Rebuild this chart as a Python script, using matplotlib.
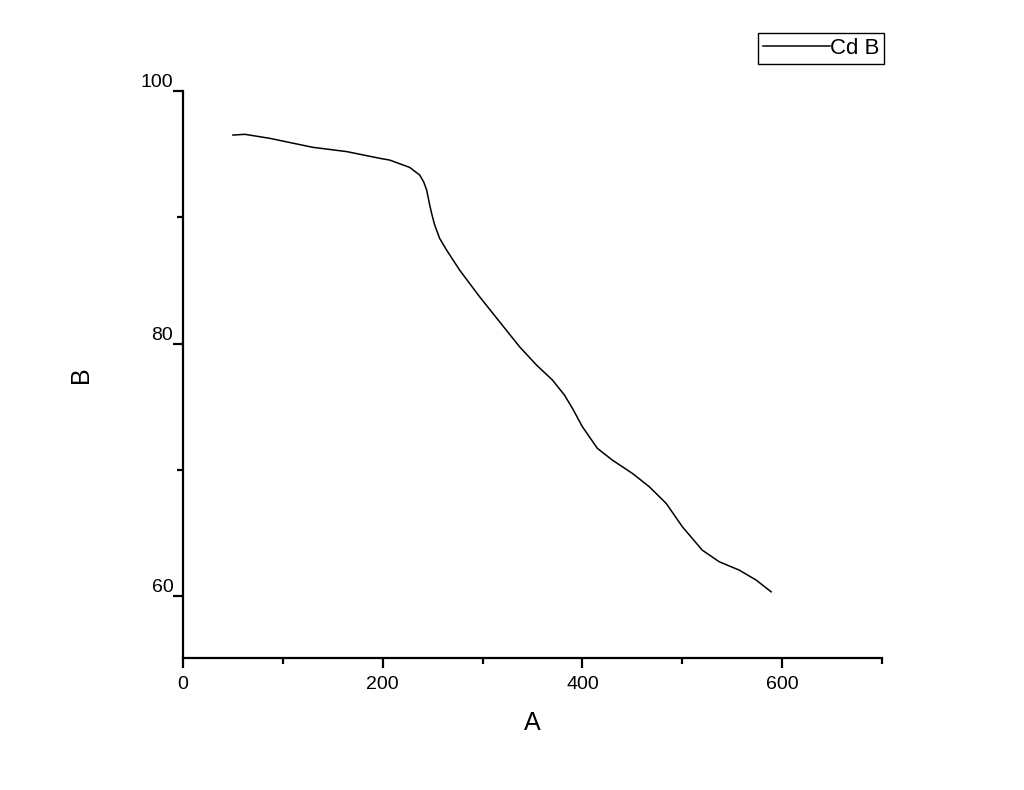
#!/usr/bin/env python3


# +
# import(s)
# -
import matplotlib
matplotlib.use('Agg')
import matplotlib.pyplot as plt
from matplotlib.ticker import MultipleLocator


# +
# constant(s)
# -
A_VALS = [50, 62, 87, 130, 164, 197, 207, 227, 237, 241, 244, 247, 249, 252, 257, 264,
          277, 297, 317, 337, 354, 370, 382, 390, 400, 415, 430, 450, 467, 484, 500,
          520, 537, 557, 574, 589]
B_VALS = [96.51, 96.57, 96.25, 95.54, 95.2, 94.67, 94.53, 93.95, 93.35, 92.8, 92.16, 91.0,
          90.3, 89.4, 88.33, 87.4, 85.82, 83.71, 81.73, 79.75, 78.3, 77.11, 75.92, 74.87,
          73.41, 71.7, 70.77, 69.72, 68.66, 67.33, 65.5, 63.64, 62.72, 62.06, 61.27, 60.34]
SERIES_NAME = 'Cd B'
X_TICKS = [0, 200, 400, 600]
Y_TICKS = [60, 80, 100]


# +
# main()
# -
if __name__ == '__main__':

    plt.rcParams['font.family'] = ['Liberation Sans', 'DejaVu Sans']

    fig = plt.figure(figsize=(10.24, 7.90), dpi=100)
    ax = fig.add_axes([183 / 1024, 1 - 658 / 790, (882 - 183) / 1024, (658 - 91) / 790])

    ax.plot(A_VALS, B_VALS, color='black', lw=1.1, label=SERIES_NAME)

    # axes
    ax.set_xlim(0, 700)
    ax.set_ylim(55.1, 100)
    for _s in ('top', 'right'):
        ax.spines[_s].set_visible(False)
    for _s in ('left', 'bottom'):
        ax.spines[_s].set_linewidth(1.6)

    ax.set_xticks(X_TICKS)
    ax.set_yticks(Y_TICKS)
    ax.xaxis.set_minor_locator(MultipleLocator(100))
    ax.yaxis.set_minor_locator(MultipleLocator(10))
    ax.tick_params(which='major', length=7, width=1.6, labelsize=14, direction='out')
    ax.tick_params(which='minor', length=4, width=1.6, direction='out')
    ax.tick_params(axis='x', pad=6)
    ax.tick_params(axis='y', pad=0)
    for _lb in ax.get_yticklabels():
        _lb.set_verticalalignment('bottom')

    ax.set_xlabel('A', fontsize=18, labelpad=13)
    ax.set_ylabel('B', fontsize=18, labelpad=34)

    # legend
    leg = ax.legend(loc='upper right', bbox_to_anchor=(884 / 1024, 1 - 33 / 790),
                    bbox_transform=fig.transFigure, borderaxespad=0, fontsize=16,
                    fancybox=False, edgecolor='black', framealpha=1,
                    handlelength=3.0, handletextpad=0.0, borderpad=0.22)
    leg.get_frame().set_linewidth(1.0)

    fig.savefig('out.png', dpi=100, facecolor='white')
